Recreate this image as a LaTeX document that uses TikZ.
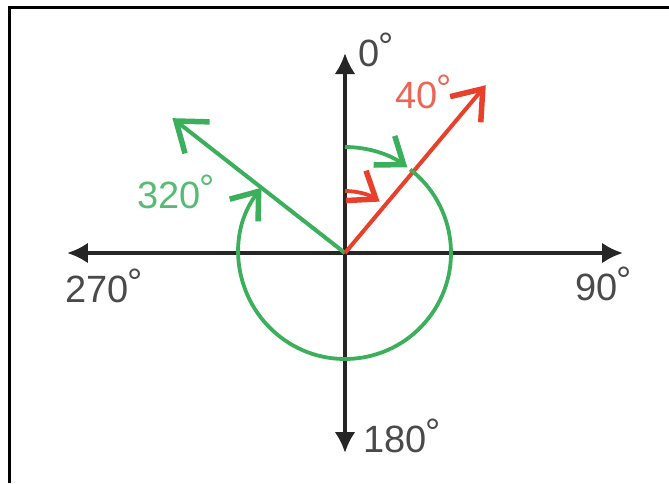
\documentclass[tikz,border=0pt]{standalone}
\usepackage{fontspec}
\setmainfont{Liberation Sans}
\usetikzlibrary{arrows.meta}
\definecolor{axisgray}{HTML}{262626}
\definecolor{labelgray}{HTML}{4A4A4A}
\definecolor{anglegreen}{HTML}{3BAF5B}
\definecolor{anglered}{HTML}{E8402A}
\newcommand{\dgr}{\kern-1pt\raisebox{7pt}{°}}

\begin{document}
\begin{tikzpicture}[
    x=1pt, y=1pt,
    axis/.style={{Latex[length=21pt,width=21pt]}-{Latex[length=21pt,width=21pt]}, line width=4.5pt, axisgray},
    ray/.style={-{Straight Barb[length=27pt,width=40pt,line width=5.5pt]}, line width=4pt},
    turn/.style={-{Straight Barb[length=24pt,width=36pt,line width=5.5pt]}, line width=3.8pt},
    deglabel/.style={inner sep=0pt, anchor=base west, font=\fontsize{38}{40}\selectfont}
]
\useasboundingbox (-345,-230) rectangle (324,253);

% frame (top and left edges only)
\draw[line width=3pt] (-335,-230) -- (-335,246) -- (324,246);

% axes
\coordinate (O) at (0,0);
\coordinate (N) at (0,200);
\coordinate (S) at (0,-200);
\coordinate (E) at (278,0);
\coordinate (W) at (-278,0);
\draw[axis] (W) -- (E);
\draw[axis] (S) -- (N);

% bearing rays
\coordinate (R40) at (50:219);
\coordinate (R320) at (142:219);
\draw[ray, anglegreen] (O) -- (R320);
\draw[ray, anglered] (O) -- (R40);

% turning arcs
\draw[turn, anglegreen] (90:106) arc[start angle=90, end angle=54, radius=106];
\draw[turn, anglegreen] (52:106) arc[start angle=52, end angle=-218, radius=106];
\draw[turn, anglered] (90:62) arc[start angle=90, end angle=56, radius=62];

% labels
\node[deglabel, labelgray] (l0) at (13,187) {0\dgr};
\node[deglabel, labelgray] (l90) at (230,-47) {90\dgr};
\node[deglabel, labelgray] (l180) at (18,-199) {180\dgr};
\node[deglabel, labelgray] (l270) at (-280,-49) {270\dgr};
\node[deglabel, anglered!80] (l40) at (50,145) {40\dgr};
\node[deglabel, anglegreen!85] (l320) at (-208,45) {320\dgr};

\end{tikzpicture}
\end{document}
